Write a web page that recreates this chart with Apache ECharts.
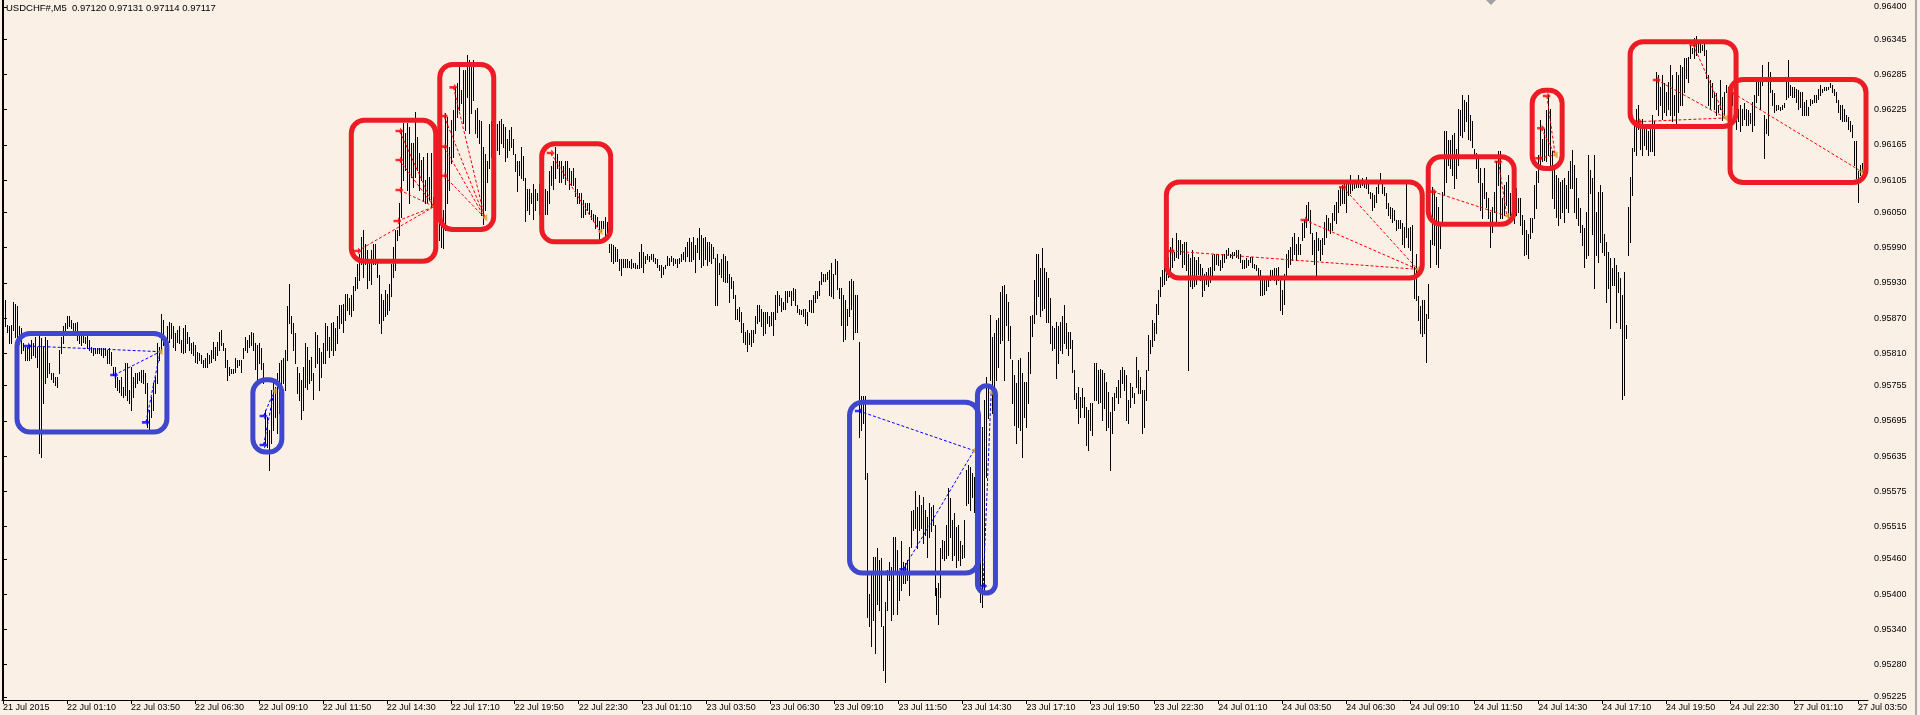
<!DOCTYPE html>
<html><head><meta charset="utf-8">
<script src="https://cdn.jsdelivr.net/npm/echarts@6/dist/echarts.min.js"></script>
<style>html,body{margin:0;padding:0;background:#FAF0E6;overflow:hidden}#c{width:1920px;height:715px}</style>
</head><body><div id="c"></div>
<script>
// Prices are stored in points (0.00001) above 0.95000
const BASE = 0.95, PT = 0.00001;
const title = 'USDCHF#,M5  0.97120 0.97131 0.97114 0.97117';

const highs = [
875,901,858,856,858,898,895,890,856,853,
827,821,821,824,833,827,838,821,841,
836,821,838,833,793,776,776,770,770,816,
838,856,861,873,873,867,861,861,864,844,
841,847,838,847,833,821,819,819,819,819,
819,819,819,816,819,813,787,787,770,765,
770,753,793,793,748,787,770,776,776,779,
782,782,776,759,713,736,759,770,827,821,
878,867,833,856,864,861,856,844,850,856,
833,853,858,847,838,827,830,824,813,810,
807,799,802,810,807,816,830,821,830,847,
850,827,819,799,787,784,784,802,799,799,
799,819,838,833,841,847,844,827,824,827,
819,793,713,702,679,748,759,753,776,793,
799,802,816,890,929,873,861,844,787,776,
765,787,827,821,799,804,776,847,841,819,
813,827,861,856,838,861,864,853,873,892,
892,895,912,912,904,909,924,941,963,980,
1009,1020,997,986,969,986,997,997,969,944,
912,901,918,912,929,963,992,1020,1020,1066,
1191,1202,1185,1202,1196,1168,1168,1222,1179,1151,
1139,1145,1105,1151,1111,1151,1077,1111,1060,1043,
1031,1054,1219,1213,1162,1208,1225,1264,1270,1299,
1259,1293,1293,1318,1310,1307,1310,1225,1228,1208,
1205,
1162,1150,1138,1200,1205,1195,1190,1200,1205,1210,
1200,1195,1175,1190,1195,1175,1150,1138,1138,1162,
1147,1108,1090,1090,1084,1099,1090,1084,1099,1108,
1102,1090,1087,1120,1129,1138,1162,1150,1138,1138,
1129,1138,1138,1126,1120,1126,1108,1090,1084,1084,
1072,1066,1066,1066,1054,1048,1045,1042,1036,1036,
1036,1042,1033,997,997,994,991,988,970,970,
970,970,970,967,970,964,964,961,982,997,
982,976,979,976,979,979,973,970,961,961,
958,961,976,973,976,973,970,970,973,979,
982,991,1000,1006,1000,1009,994,1006,1024,1012,
1006,1009,1000,1000,997,991,973,979,964,970,
979,976,967,946,940,934,910,886,889,880,
862,847,850,844,850,850,874,892,892,886,
880,880,880,874,880,880,910,916,910,904,
898,916,916,916,916,922,919,892,886,884,
886,886,880,901,901,910,916,916,934,949,
946,946,949,952,964,946,970,967,922,922,
910,901,886,934,937,934,910,910,829,737,
737,737,606,401,436,464,464,478,458,461,
345,387,441,455,447,498,498,475,438,490,
455,453,458,481,541,543,575,549,569,552,
566,543,532,555,549,552,518,410,419,478,
492,490,518,580,563,526,538,515,518,490,
484,526,612,620,617,606,600,590,560,504,
685,730,770,753,875,838,844,867,870,915,
924,927,912,898,856,799,773,759,799,802,
776,762,762,813,873,875,935,980,980,955,
989,955,949,938,904,856,853,864,856,864,
873,892,861,847,847,833,782,742,753,736,
751,736,719,714,725,725,793,793,782,784,
782,776,762,745,711,736,742,753,765,782,
787,782,773,731,759,753,742,804,782,770,
748,748,782,841,833,867,861,895,918,941,
952,958,961,975,992,1006,983,1015,1003,1003,
997,1000,1000,980,972,986,975,969,975,963,
955,946,949,955,958,978,980,980,980,969,
980,980,986,989,980,983,983,986,986,980,
969,969,972,969,975,975,963,961,955,952,
935,935,935,941,952,952,955,955,958,938,
918,946,980,986,992,1009,1015,997,1009,997,
1032,1037,1063,1068,1054,1015,1003,1017,1006,1003,
1006,1034,1046,1040,1032,1049,1063,1068,1088,1094,
1097,1100,1100,1102,1114,1102,1105,1105,1114,1105,
1108,1105,1111,1100,1085,1083,1080,1094,1105,1117,
1105,1094,1083,1066,1060,1057,1054,1037,1037,1037,
1032,1026,1100,1023,1026,1029,958,980,907,890,
901,901,878,929,1003,
1094,1085,1077,1060,1030,
1085,1188,1188,1173,1173,1182,1185,1159,1227,1225,
1250,1242,1239,1250,1216,1205,1159,1151,1148,1125,
1100,1125,1085,1074,1051,1060,1085,1137,1154,1154,
1074,1097,1102,1114,1083,1074,1077,1091,1074,1074,
1046,1037,1020,1014,1040,1040,1097,1120,1148,1208,
1176,1193,1225,1250,1227,1154,1131,1114,1108,1102,
1105,1108,1097,1120,1137,1156,1131,1108,1074,1057,
1029,1023,1051,1148,1122,1108,1148,1051,1085,1097,
1085,1014,1000,983,972,955,972,961,949,938,
910,949,858,1060,1110,1160,1199,1227,1233,1199,
1210,1199,1199,1188,1193,1216,1205,1290,1284,1264,
1284,1270,1256,1273,1301,1284,1250,1290,1284,1301,
1298,1313,1313,1315,1335,1330,1347,1350,1341,1338,
1335,1341,1327,1284,1276,1270,1256,1253,1233,1276,
1247,1256,1267,1264,1256,1256,1233,1227,1227,1233,
1227,1236,1227,1225,1219,1239,1250,1273,1273,1279,
1301,1216,1210,1307,1290,1259,1253,1233,1233,1230,
1233,1236,1279,1310,1267,1264,1264,1261,1259,1256,
1256,1239,1242,1230,1244,1242,1250,1250,1261,1267,
1261,1264,1264,1264,1270,1267,1261,1256,1242,1233,
1233,1227,1216,1213,1205,1199,1171,1171,1120,1131,
1134
];

const lows = [
864,856,847,827,827,850,838,827,830,810,
816,799,799,799,802,807,804,787,640,
634,725,759,770,776,767,762,756,753,776,
810,827,850,853,856,853,850,844,833,827,
824,830,827,819,816,813,807,810,810,810,
807,804,807,793,793,790,773,753,748,745,
739,736,739,731,725,713,736,753,759,765,
762,759,742,685,679,702,713,742,759,799,
816,824,787,821,830,836,821,816,830,827,
813,810,813,827,816,810,807,796,793,799,
793,787,787,787,793,796,802,799,807,816,
824,816,787,765,773,776,776,779,787,790,
779,802,816,813,821,824,816,784,767,793,
784,759,657,651,611,657,679,702,674,708,
736,759,748,799,861,844,816,793,742,731,
699,713,753,750,759,765,733,787,793,748,
770,793,793,816,804,816,807,816,827,853,
861,847,867,884,878,873,884,918,921,935,
963,941,963,921,935,929,963,963,941,861,
844,867,873,878,884,907,941,952,1003,1012,
1043,1105,1122,1088,1066,1111,1094,1111,1122,1088,
1105,1071,1066,1066,1071,1060,1060,980,1020,1003,
992,989,1020,1066,1088,1134,1145,1191,1213,1225,
1236,1202,1191,1247,1185,1219,1242,1185,1179,1168,
1045,
1030,1054,1102,1126,1144,1156,1162,1156,1150,1168,
1162,1138,1144,1156,1162,1150,1120,1087,1114,1108,
1105,1036,1054,1048,1066,1039,1054,1072,1048,1066,
1060,1048,1048,1066,1096,1090,1108,1126,1102,1102,
1108,1099,1105,1090,1096,1096,1078,1066,1066,1042,
1042,1048,1054,1048,1039,1036,1024,1027,1000,1018,
1024,1012,1015,982,967,964,967,967,952,943,
958,958,958,958,955,958,955,955,955,958,
949,964,970,967,970,967,964,958,952,940,
946,955,961,961,967,961,964,958,964,967,
970,967,976,967,967,970,949,982,970,958,
961,970,961,967,964,973,892,892,946,940,
934,931,931,898,922,904,868,868,865,847,
829,826,814,826,823,829,844,862,865,856,
841,844,862,856,859,841,868,880,892,883,
886,886,898,907,892,901,892,880,877,878,
874,862,859,883,880,880,898,904,910,928,
934,934,937,910,907,904,946,919,904,859,
832,835,859,874,886,835,847,847,668,680,
691,597,362,345,311,356,299,384,373,345,
271,251,373,424,356,367,441,367,390,407,
419,419,424,399,481,509,512,478,509,512,
487,501,464,498,507,518,399,367,350,396,
461,458,461,467,498,458,467,447,458,450,
461,464,552,555,543,566,540,500,470,387,
379,400,600,700,765,708,736,765,787,827,
833,765,858,833,802,725,688,657,685,680,
634,702,685,725,776,839,861,878,907,873,
884,887,864,864,827,816,819,768,793,816,
810,827,819,807,819,779,733,717,691,702,
719,702,654,646,680,671,731,731,725,728,
697,717,680,685,611,674,714,736,725,736,
759,748,697,691,719,736,725,753,742,742,
674,685,731,782,810,822,833,844,878,907,
924,929,935,941,946,958,969,975,972,980,
958,963,952,782,924,921,924,929,946,935,
907,918,929,924,932,941,952,963,961,952,
958,966,972,978,975,972,978,975,972,966,
955,955,958,961,966,958,955,952,941,910,
910,912,918,924,935,941,935,929,935,884,
878,895,941,958,963,969,980,969,980,980,
1003,1009,1026,1037,1015,980,963,944,986,969,
980,997,1009,1020,1015,1020,1037,1032,1051,1063,
1066,1066,1051,1080,1083,1088,1091,1094,1094,1094,
1097,1094,1091,1083,1074,1054,1060,1068,1083,1100,
1083,1080,1057,1046,1040,1034,1037,1020,1023,1023,
997,992,1009,992,986,958,904,901,867,844,
839,844,796,870,958,
997,995,963,958,989,
1034,1080,1102,1131,1125,1114,1091,1108,1131,1182,
1179,1188,1205,1176,1173,1162,1148,1125,1102,1054,
1040,1074,1060,1040,992,1017,1051,1032,1097,1040,
1040,1046,1063,1043,1046,1051,1032,1046,1051,1029,
1014,978,980,972,1006,1017,1040,1057,1102,1128,
1137,1139,1137,1148,1122,1074,1057,1043,1029,1040,
1051,1034,1057,1051,1091,1091,1051,1040,1029,1017,
995,958,972,978,1083,1014,921,978,966,1000,
983,978,898,921,853,926,926,864,915,853,
733,739,836,978,1000,1080,1154,1148,1193,1159,
1148,1165,1159,1148,1154,1154,1148,1227,1216,1233,
1210,1222,1216,1227,1216,1205,1216,1199,1222,1233,
1233,1256,1279,1273,1313,1321,1313,1318,1324,1324,
1327,1318,1279,1233,1227,1247,1227,1216,1222,1227,
1208,1216,1256,1222,1230,1233,1222,1193,1205,1188,
1199,1210,1199,1199,1202,1188,1199,1239,1250,1227,
1267,1142,1185,1182,1256,1233,1222,1225,1227,1225,
1227,1230,1244,1247,1250,1247,1247,1239,1227,1230,
1216,1216,1216,1216,1233,1236,1239,1239,1244,1250,
1256,1259,1259,1261,1264,1256,1250,1239,1222,1210,
1205,1205,1205,1193,1188,1179,1131,1108,1068,1114,
1120
];

// time labels, one every 32 bars
const xLabels = ['21 Jul 2015','22 Jul 01:10','22 Jul 03:50','22 Jul 06:30','22 Jul 09:10','22 Jul 11:50','22 Jul 14:30','22 Jul 17:10','22 Jul 19:50','22 Jul 22:30',
'23 Jul 01:10','23 Jul 03:50','23 Jul 06:30','23 Jul 09:10','23 Jul 11:50','23 Jul 14:30','23 Jul 17:10','23 Jul 19:50','23 Jul 22:30','24 Jul 01:10',
'24 Jul 03:50','24 Jul 06:30','24 Jul 09:10','24 Jul 11:50','24 Jul 14:30','24 Jul 17:10','24 Jul 19:50','24 Jul 22:30','27 Jul 01:10','27 Jul 03:50'];
const xLabelStep = 32;
const yLabels = [0.96400,0.96345,0.96285,0.96225,0.96165,0.96105,0.96050,0.95990,0.95930,0.95870,0.95810,
0.95755,0.95695,0.95635,0.95575,0.95515,0.95460,0.95400,0.95340,0.95280,0.95225];

// highlight boxes: [barFrom, barTo, topPts, bottomPts, side]
const boxes = [
[7,82,844,676,'b'],[125,139.5,765,642,'b'],[174.25,216.5,1207,967,'r'],[218.5,245.5,1302,1021,'r'],
[269.5,304,1167,1000,'r'],[423.5,488,727,436,'b'],[487.5,496.5,755,402,'b'],[582,710,1102,938.5,'r'],
[713,756,1145,1030,'r'],[765,780,1258,1125,'r'],[814,867,1341,1196.5,'r'],[864,932,1276.5,1101,'r']
];
// trades: side, exit [bar, pts]; entries [tradeIndex, bar, pts]
const tradeSide = ['b','b','r','r','r','b','b','r','r','r','r','r'];
const tradeExit = [[78.65,813],[135.65,746],[215.65,1060],[241,1041],[298.65,1017.5],[485.75,644.6],[494.35,743.8],[707.65,953.3],[752.35,1044],[776.5,1148],[861.75,1211],[929.85,1119.5]];
const tradeEntry = [[0,12.35,822.7],[0,55.65,773.3],[0,71.5,692.7],[1,130.35,703.5],[1,130.35,654],
[2,177.35,984.5],[2,197.35,1035.6],[2,198.35,1088.4],[2,198.35,1139.4],[2,198.35,1188.8],
[3,225.35,1263.2],[3,220.65,1214.4],[3,220.65,1162.1],[3,220.65,1112.7],[4,274,1151.4],
[5,428.15,712],[5,450.35,442.4],[6,490.35,414],[7,584.35,984.5],[7,651.15,1037.3],[7,670.35,1093],
[8,715.35,1085.5],[8,748.15,1136.5],[9,772.35,1248.4],[9,769.5,1193.4],[9,768.5,1142.3],
[10,827.35,1275.7],[10,845.65,1335.3],[10,818.15,1204.7],[11,865.65,1253]];

const px = p => BASE + p * PT;
const FONT = 'Liberation Sans';
const BOX_COL = {b:'#3F48CC', r:'#ED1C24'};
const LINE_COL = {b:'#0000FF', r:'#FF0000'};

const barData = highs.map((h, i) => [i, px(h), px(lows[i])]);
const boxData = boxes.map(b => [b[0], b[1], px(b[2]), px(b[3]), b[4] === 'b' ? 0 : 1]);
const lineData = tradeEntry.map(e => { const t = e[0]; return [e[1], px(e[2]), tradeExit[t][0], px(tradeExit[t][1]), tradeSide[t] === 'b' ? 0 : 1]; });
const entryBlue = tradeEntry.filter(e => tradeSide[e[0]] === 'b').map(e => [e[1], px(e[2])]);
const entryRed = tradeEntry.filter(e => tradeSide[e[0]] === 'r').map(e => [e[1], px(e[2])]);
const exitData = tradeExit.map(e => [e[0], px(e[1])]);
const xTicks = xLabels.map((_, k) => k * xLabelStep);

const yMin = 0.952198, yMax = 0.964119;
const chart = echarts.init(document.getElementById('c'));
chart.setOption({
  animation: false,
  backgroundColor: '#FAF0E6',
  grid: {left: 1, right: 52, top: 0, bottom: 15},
  graphic: [
    {type: 'text', x: 6, y: 3, z: 10, style: {text: title, font: '9.5px "Liberation Sans"', fill: '#000', textVerticalAlign: 'top'}},
    {type: 'polygon', shape: {points: [[1486,0],[1496,0],[1491,5]]}, style: {fill: '#A0A0A0'}},
    {type: 'rect', shape: {x: 1915, y: 0, width: 2, height: 715}, style: {fill: '#A8A8A8'}}
  ],
  xAxis: {
    type: 'value', min: -0.5, max: 933,
    axisLine: {show: true, lineStyle: {color: '#000', width: 1}},
    axisTick: {show: true, customValues: xTicks, length: 4, lineStyle: {color: '#000'}},
    axisLabel: {customValues: xTicks, formatter: v => xLabels[Math.round(v / xLabelStep)] || '',
      align: 'left', margin: 3, color: '#000', fontSize: 9, fontFamily: FONT},
    splitLine: {show: false}
  },
  yAxis: [{
    type: 'value', position: 'right', min: yMin, max: yMax,
    axisLine: {show: true, lineStyle: {color: '#000', width: 1}},
    axisTick: {show: true, customValues: yLabels, length: 4, lineStyle: {color: '#000'}},
    axisLabel: {customValues: yLabels, formatter: v => v.toFixed(5), margin: 6, color: '#000', fontSize: 9, fontFamily: FONT},
    splitLine: {show: false}
  }, {
    type: 'value', position: 'left', min: yMin, max: yMax,
    axisLine: {show: true, lineStyle: {color: '#000', width: 1}},
    axisTick: {show: false}, axisLabel: {show: false}, splitLine: {show: false}
  }],
  series: [
    {
      type: 'custom', name: 'bars', z: 2, data: barData, clip: true,
      renderItem: (params, api) => {
        const hi = api.coord([api.value(0), api.value(1)]);
        const lo = api.coord([api.value(0), api.value(2)]);
        const x = Math.round(hi[0]) + 0.5;
        return {type: 'line', shape: {x1: x, y1: Math.round(hi[1]), x2: x, y2: Math.round(lo[1]) + 1},
          style: {stroke: '#000', lineWidth: 1}};
      }
    },
    {
      type: 'custom', name: 'tradeLines', z: 3, data: lineData, clip: false,
      renderItem: (params, api) => {
        const a = api.coord([api.value(0), api.value(1)]);
        const b = api.coord([api.value(2), api.value(3)]);
        return {type: 'line', shape: {x1: a[0], y1: a[1], x2: b[0], y2: b[1]},
          style: {stroke: api.value(4) === 0 ? LINE_COL.b : LINE_COL.r, lineWidth: 1, lineDash: [3, 2]}};
      }
    },
    {type: 'scatter', name: 'buyEntries', z: 4, data: entryBlue, symbol: 'path://M0,2.5H5V0L9,4L5,8V5.5H0Z',
      symbolSize: [8, 7], itemStyle: {color: LINE_COL.b}, silent: true},
    {type: 'scatter', name: 'sellEntries', z: 4, data: entryRed, symbol: 'path://M0,2.5H5V0L9,4L5,8V5.5H0Z',
      symbolSize: [8, 7], itemStyle: {color: LINE_COL.r}, silent: true},
    {type: 'scatter', name: 'exits', z: 4, data: exitData, symbol: 'path://M8,0V8L0,4Z',
      symbolSize: [5, 7], itemStyle: {color: '#DAA520'}, silent: true},
    {
      type: 'custom', name: 'boxes', z: 5, data: boxData, clip: false,
      renderItem: (params, api) => {
        const p1 = api.coord([api.value(0), api.value(2)]);
        const p2 = api.coord([api.value(1), api.value(3)]);
        return {type: 'rect', shape: {x: p1[0], y: p1[1], width: p2[0] - p1[0], height: p2[1] - p1[1], r: 13},
          style: {fill: 'none', stroke: api.value(4) === 0 ? BOX_COL.b : BOX_COL.r, lineWidth: 5}};
      }
    }
  ]
});
</script>
</body></html>
